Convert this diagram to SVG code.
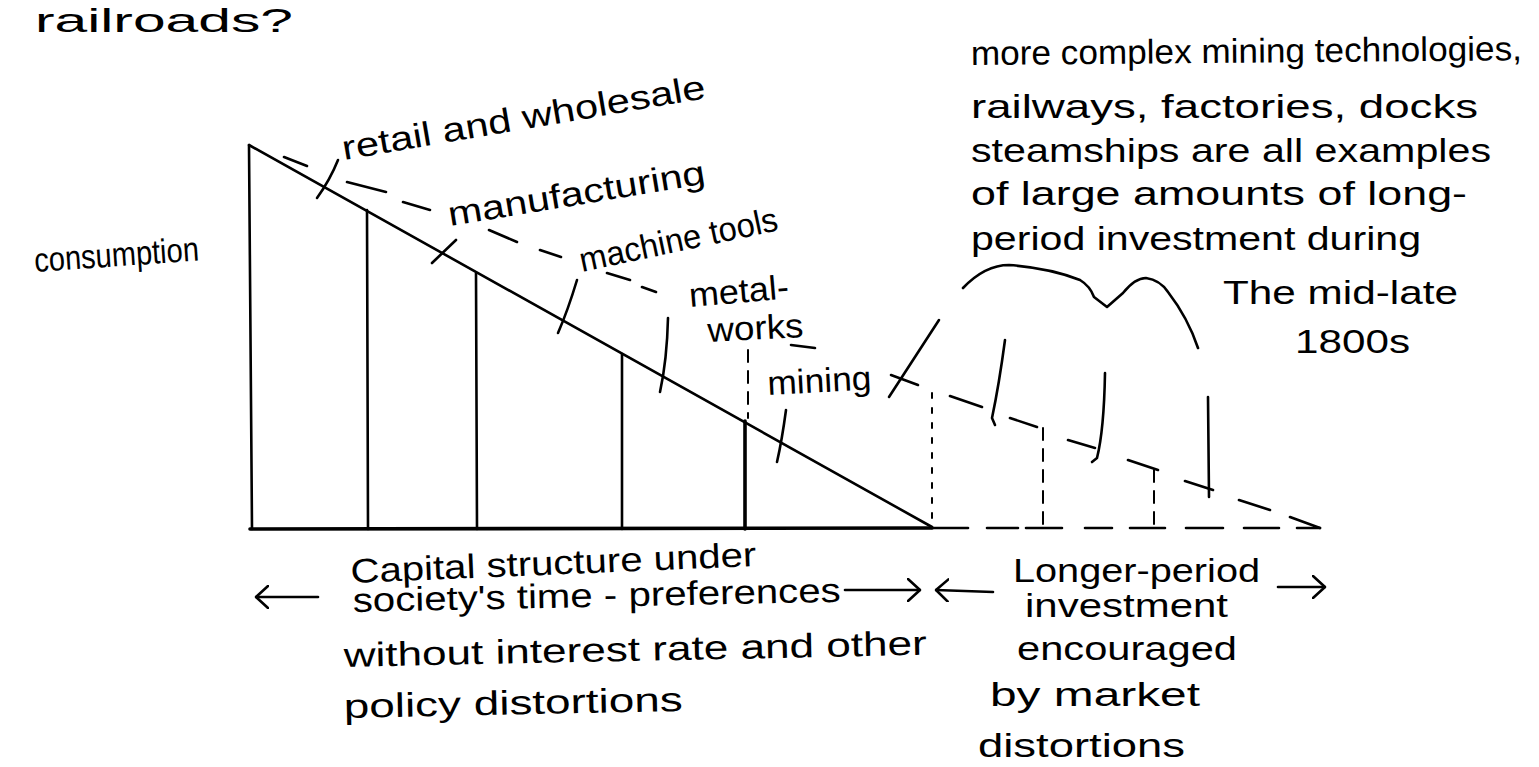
<svg xmlns="http://www.w3.org/2000/svg" width="1539" height="767" viewBox="0 0 1539 767">
<defs>
<style>
.ln{fill:none;stroke:#000;stroke-width:2.6;stroke-linecap:round;stroke-linejoin:round}
.thk{stroke-width:3.6}
.thin{stroke-width:2}
.dv{stroke-dasharray:12 9}
.dvs{stroke-dasharray:5 10}
.t{font-family:"Liberation Sans","DejaVu Sans",sans-serif;font-size:34px;fill:#000}
</style>
<marker id="ah" viewBox="0 0 14 24" refX="13" refY="12" markerWidth="14" markerHeight="24" markerUnits="userSpaceOnUse" orient="auto">
<path d="M1,1 L13,12 L1,23" fill="none" stroke="#000" stroke-width="2.6" stroke-linecap="round" stroke-linejoin="round"/>
</marker>
</defs>
<rect width="1539" height="767" fill="#fff"/>

<g id="top-text">
<text class="t" x="35" y="32" font-size="40" textLength="258" lengthAdjust="spacingAndGlyphs">railroads?</text>
</g>

<g id="structure">
<path class="ln" d="M249,145 L252,529"/>
<path class="ln thk" d="M250,529 L932,528"/>
<path class="ln" d="M932,528 L968,528"/>
<path class="ln" d="M249,145 L932,527"/>
<path class="ln" d="M367,210 L368,529"/>
<path class="ln" d="M476,273 L477,529"/>
<path class="ln" d="M622,354 L622,529"/>
<path class="ln thk" d="M745,421 L745,529"/>
<path class="ln thin dv" d="M748,350 L748,418"/>
</g>

<g id="dashed-extension">
<path class="ln" d="M284,157 L307,166 M347,182 L386,192 M403,202 L430,210 M489,230 L517,242 M540,250 L561,257 M607,273 L630,280 M642,287 L656,292"/>
<path class="ln" d="M950,396 L982,407 M1010,418 L1037,427 M1068,440 L1095,448 M1128,460 L1158,470 M1185,481 L1213,490 M1239,500 L1270,510 M1290,517 L1320,528"/>
<path class="ln" d="M987,528 L1018,528 M1026,528 L1062,528 M1085,528 L1112,528 M1130,528 L1165,528 M1186,528 L1223,528 M1244,528 L1279,528 M1297,528 L1320,528"/>
<path class="ln thin dvs" d="M932,393 L932,525"/>
<path class="ln thin dv" d="M1043,428 L1043,525"/>
<path class="ln thin dv" d="M1154,470 L1154,525"/>
</g>

<g id="ticks">
<path class="ln" d="M338,160 Q330,180 317,198"/>
<path class="ln" d="M456,240 L432,263"/>
<path class="ln" d="M577,280 Q568,310 558,333"/>
<path class="ln" d="M668,318 Q667,360 660,392"/>
<path class="ln" d="M786,410 Q782,440 777,462"/>
<path class="ln" d="M891,375 L918,385 M889,397 L939,320"/>
<path class="ln" d="M791,345 L815,348"/>
</g>

<g id="brace">
<path class="ln" d="M963,288 Q985,265 1009,265 Q1050,268 1080,280 Q1090,286 1094,297 L1107,307 L1123,293 Q1135,278 1146,278 Q1160,280 1168,292 Q1188,318 1198,348"/>
<path class="ln" d="M1005,340 Q999,385 992,418 L995,425"/>
<path class="ln" d="M1105,373 Q1104,430 1097,458 L1092,462"/>
<path class="ln" d="M1208,397 L1209,497"/>
</g>

<g id="stage-labels">
<text class="t" transform="translate(344,160) rotate(-9.7)" font-size="36" textLength="368" lengthAdjust="spacingAndGlyphs">retail and wholesale</text>
<text class="t" transform="translate(450,226) rotate(-9.4)" font-size="36" textLength="260" lengthAdjust="spacingAndGlyphs">manufacturing</text>
<text class="t" transform="translate(582,272) rotate(-12)" font-size="32" textLength="202" lengthAdjust="spacingAndGlyphs">machine tools</text>
<text class="t" transform="translate(690,307) rotate(-5)" font-size="32" textLength="100" lengthAdjust="spacingAndGlyphs">metal-</text>
<text class="t" transform="translate(708,342) rotate(-3)" font-size="34" textLength="96" lengthAdjust="spacingAndGlyphs">works</text>
<text class="t" transform="translate(768,395) rotate(-3)" font-size="34" textLength="104" lengthAdjust="spacingAndGlyphs">mining</text>
<text class="t" transform="translate(35,272) rotate(-4)" font-size="32" textLength="165" lengthAdjust="spacingAndGlyphs">consumption</text>
</g>

<g id="note">
<text class="t" transform="translate(971,65) rotate(-0.5)" font-size="36" textLength="551" lengthAdjust="spacingAndGlyphs">more complex mining technologies,</text>
<text class="t" transform="translate(971,118)" font-size="36" textLength="507" lengthAdjust="spacingAndGlyphs">railways, factories, docks</text>
<text class="t" transform="translate(971,162)" font-size="36" textLength="520" lengthAdjust="spacingAndGlyphs">steamships are all examples</text>
<text class="t" transform="translate(971,205)" font-size="36" textLength="496" lengthAdjust="spacingAndGlyphs">of large amounts of long-</text>
<text class="t" transform="translate(971,250)" font-size="36" textLength="450" lengthAdjust="spacingAndGlyphs">period investment during</text>
<text class="t" transform="translate(1223,304)" font-size="36" textLength="235" lengthAdjust="spacingAndGlyphs">The mid-late</text>
<text class="t" transform="translate(1295,353)" font-size="40" textLength="115" lengthAdjust="spacingAndGlyphs">1800s</text>
</g>

<g id="caption-left">
<text class="t" transform="translate(351,583) rotate(-2.4)" textLength="406" lengthAdjust="spacingAndGlyphs">Capital structure under</text>
<text class="t" transform="translate(353,612) rotate(-1.2)" textLength="488" lengthAdjust="spacingAndGlyphs">society's time - preferences</text>
<text class="t" transform="translate(344,667) rotate(-1.2)" textLength="583" lengthAdjust="spacingAndGlyphs">without interest rate and other</text>
<text class="t" transform="translate(344,718) rotate(-1.2)" textLength="339" lengthAdjust="spacingAndGlyphs">policy distortions</text>
</g>

<g id="caption-right">
<text class="t" x="1013" y="582" textLength="247" lengthAdjust="spacingAndGlyphs">Longer-period</text>
<text class="t" x="1025" y="617" textLength="203" lengthAdjust="spacingAndGlyphs">investment</text>
<text class="t" x="1017" y="660" textLength="220" lengthAdjust="spacingAndGlyphs">encouraged</text>
<text class="t" x="990" y="706" textLength="210" lengthAdjust="spacingAndGlyphs">by market</text>
<text class="t" x="978" y="757" textLength="207" lengthAdjust="spacingAndGlyphs">distortions</text>
</g>

<g id="connectors">
<path class="ln" d="M318,597 L256,597" marker-end="url(#ah)"/>
<path class="ln" d="M845,590 L920,590" marker-end="url(#ah)"/>
<path class="ln" d="M993,592 L936,590" marker-end="url(#ah)"/>
<path class="ln" d="M1278,587 L1325,587" marker-end="url(#ah)"/>
</g>
</svg>
